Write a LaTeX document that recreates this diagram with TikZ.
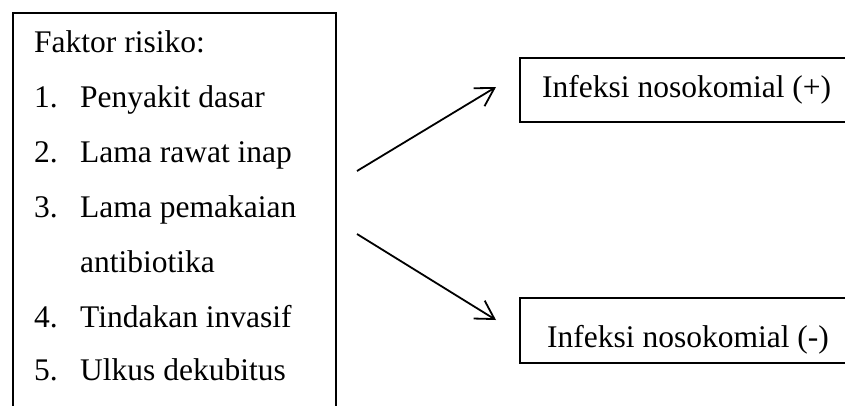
\documentclass[tikz,border=0pt]{standalone}
\usepackage{fontspec}
\setmainfont{Liberation Serif}
\usetikzlibrary{arrows.meta}
\begin{document}
\begin{tikzpicture}[x=1pt,y=-1pt,
  boxst/.style={draw=black, line width=2pt, inner sep=0pt},
  txt/.style={anchor=base west, inner sep=0pt, font=\fontsize{31.5}{36}\selectfont},
  arr/.style={draw=black, line width=1.8pt, -{Straight Barb[length=18pt,width=21pt,line width=1.8pt]}}]
\useasboundingbox (0,0) rectangle (845,405);
\clip (0,0) rectangle (845,405);
% left box
\node[boxst, anchor=north west, minimum width=323pt, minimum height=430pt] (risk) at (12,12) {};
\node[txt] (t0) at (34,52) {Faktor risiko:};
\node[txt] (n1) at (34,107) {1.};
\node[txt] (i1) at (80,107) {Penyakit dasar};
\node[txt] (n2) at (34,162) {2.};
\node[txt] (i2) at (80,162) {Lama rawat inap};
\node[txt] (n3) at (34,217) {3.};
\node[txt] (i3) at (80,217) {Lama pemakaian};
\node[txt] (i3b) at (80,272) {antibiotika};
\node[txt] (n4) at (34,327) {4.};
\node[txt] (i4) at (80,327) {Tindakan invasif};
\node[txt] (n5) at (34,380) {5.};
\node[txt] (i5) at (80,380) {Ulkus dekubitus};
% right boxes
\node[boxst, anchor=north west, minimum width=360pt, minimum height=64pt] (pos) at (519,57) {};
\node[txt] (postxt) at (542,97) {Infeksi nosokomial (+)};
\node[boxst, anchor=north west, minimum width=360pt, minimum height=65pt] (neg) at (519,297) {};
\node[txt] (negtxt) at (547,347) {Infeksi nosokomial (-)};
% arrows
\coordinate (a1s) at (357,171);
\coordinate (a1e) at (496,87);
\coordinate (a2s) at (357,234);
\coordinate (a2e) at (496,320);
\draw[arr] (a1s) -- (a1e);
\draw[arr] (a2s) -- (a2e);
\end{tikzpicture}
\end{document}
